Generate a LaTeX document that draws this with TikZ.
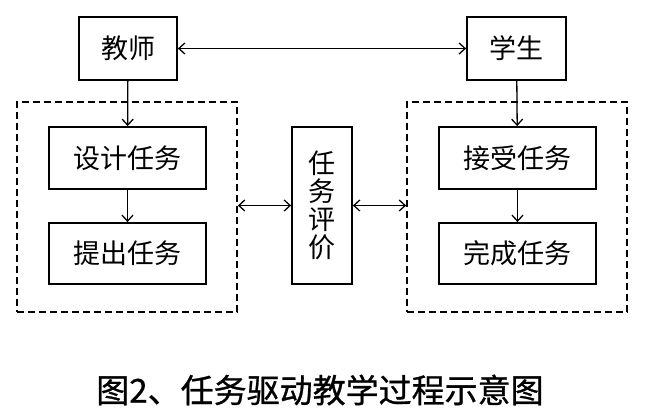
\documentclass[tikz,border=0pt]{standalone}
\usepackage{fontspec}
\usepackage{tikz}
\usetikzlibrary{arrows.meta}
\newfontfamily\cjk{Noto Sans CJK SC}
\newfontfamily\capfont[FakeBold=0.8]{Noto Sans CJK SC}

\begin{document}
\begin{tikzpicture}[x=1pt, y=-1pt,
    box/.style = {shape=rectangle, draw, line width=1.8pt,
      align=center, inner sep=0pt, font=\cjk\fontsize{27}{28}\selectfont},
    groupbox/.style = {shape=rectangle, draw, line width=1.7pt,
      dash pattern=on 7pt off 4pt, minimum width=220pt, minimum height=210pt},
    link/.style = {line width=1.3pt, -{Straight Barb[length=6pt,width=11pt]}},
    both/.style = {line width=1.3pt, {Straight Barb[length=6pt,width=11pt]}-{Straight Barb[length=6pt,width=11pt]}}]
    \useasboundingbox (0,0) rectangle (648,414);
    % outer people
    \node[box, minimum width=98pt, minimum height=63pt] (teacher) at (128,48.5) {教师};
    \node[box, minimum width=99pt, minimum height=63pt] (student) at (516.5,48.5) {学生};
    % dashed groups
    \node[groupbox] (left) at (127,207) {};
    \node[groupbox] (right) at (517,207) {};
    % tasks
    \node[box, minimum width=157pt, minimum height=62pt] (design) at (127.5,158) {设计任务};
    \node[box, minimum width=157pt, minimum height=61pt] (propose) at (127.5,253.5) {提出任务};
    \node[box, minimum width=157pt, minimum height=62pt] (receive) at (517.5,158) {接受任务};
    \node[box, minimum width=157pt, minimum height=61pt] (complete) at (517.5,253.5) {完成任务};
    \node[box, minimum width=60pt, minimum height=157pt] (evaluate) at (322,205.5) {任\\务\\评\\价};
    % caption
    \node[font=\capfont\fontsize{33}{36}\selectfont] (caption) at (320,390) {图2、任务驱动教学过程示意图};
    % connectors
    \draw[both] (teacher) -- (student);
    \draw[link] (teacher) -- (design);
    \draw[link] (design) -- (propose);
    \draw[link] (student) -- (receive);
    \draw[link] (receive) -- (complete);
    \draw[both] (left.east |- evaluate.west) -- (evaluate.west);
    \draw[both] (evaluate.east) -- (evaluate.east -| right.west);
\end{tikzpicture}
\end{document}
